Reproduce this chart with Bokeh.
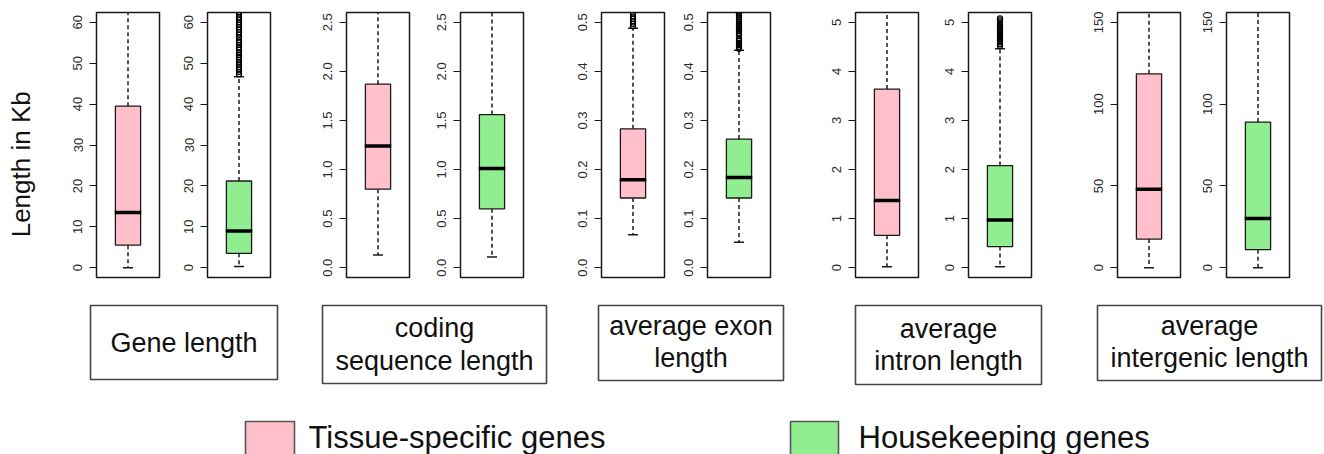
import math
from bokeh.plotting import figure
from bokeh.layouts import row, column
from bokeh.models import Range1d, FixedTicker, ColumnDataSource
from bokeh.embed import file_html
from bokeh.resources import INLINE
from bokeh.core.properties import value

# ---------------- data ----------------
measures = ["Gene length", "coding sequence length", "average exon length",
            "average intron length", "average intergenic length"]
label_lines = [["Gene length"], ["coding", "sequence length"], ["average exon", "length"],
               ["average", "intron length"], ["average", "intergenic length"]]
groups = ["Tissue-specific genes", "Housekeeping genes"]
y_label = "Length in Kb"

ylim_max = [60, 2.5, 0.5, 5, 150]
tick_values = [[0, 10, 20, 30, 40, 50, 60],
               [0.0, 0.5, 1.0, 1.5, 2.0, 2.5],
               [0.0, 0.1, 0.2, 0.3, 0.4, 0.5],
               [0, 1, 2, 3, 4, 5],
               [0, 50, 100, 150]]
tick_labels = [["0", "10", "20", "30", "40", "50", "60"],
               ["0.0", "0.5", "1.0", "1.5", "2.0", "2.5"],
               ["0.0", "0.1", "0.2", "0.3", "0.4", "0.5"],
               ["0", "1", "2", "3", "4", "5"],
               ["0", "50", "100", "150"]]

# Tissue-specific genes (pink)
ts_low = [0.0, 0.13, 0.067, 0.02, 0.0]
ts_q1 = [5.5, 0.80, 0.142, 0.66, 17.5]
ts_med = [13.5, 1.24, 0.179, 1.37, 48.0]
ts_q3 = [39.5, 1.87, 0.283, 3.64, 118.5]
ts_high = [90.0, 3.4, 0.488, 8.1, 270.0]
ts_out = [[], [], [0.492, 0.497, 0.502, 0.507, 0.512, 0.518], [], []]

# Housekeeping genes (green)
hk_low = [0.3, 0.11, 0.052, 0.02, 0.0]
hk_q1 = [3.5, 0.60, 0.142, 0.43, 11.0]
hk_med = [9.0, 1.01, 0.184, 0.97, 30.0]
hk_q3 = [21.2, 1.56, 0.262, 2.08, 89.0]
hk_high = [46.7, 3.0, 0.443, 4.46, 205.0]
hk_out = [[47.3, 47.9, 48.5, 49.0, 49.6, 50.3, 50.9, 51.4, 52.0, 52.7, 53.3, 53.8, 54.5,
           55.1, 55.6, 56.3, 57.0, 57.6, 58.2, 58.8, 59.4, 60.0, 60.6, 61.2, 61.9, 62.5],
          [],
          [0.446, 0.450, 0.454, 0.458, 0.462, 0.466, 0.474, 0.478, 0.482, 0.486, 0.490,
           0.494, 0.498, 0.502, 0.506, 0.510, 0.514, 0.518, 0.522],
          [4.52, 4.56, 4.60, 4.64, 4.68, 4.72, 4.76, 4.80, 4.84, 4.88, 4.92, 4.96,
           5.00, 5.04, 5.08],
          []]

colors = ["#FFC0CB", "#90EE90"]

# ---------------- layout constants (page pixels) ----------------
FONT = "Liberation Sans"
PAGE_W = 1324
PAGE_H = 454
ROW_H = 295
FRAME_W = 63
FRAME_H = 265
AX_W = 34
frame_left = [96, 207, 346, 460, 601, 707, 855, 968, 1117, 1226]
frame_top = [12, 13, 13, 13, 15, 15, 15, 17, 17, 17]
BOX_HALF = 0.2
CAP_HALF = 0.08


def make_panel(i, g):
    k = i * 2 + g
    ymax = ylim_max[i]
    pad = 0.04 * ymax
    left = frame_left[k] - AX_W
    nxt = frame_left[k + 1] - AX_W if k + 1 < len(frame_left) else PAGE_W
    width = nxt - left
    mt = frame_top[k] - 5
    mb = ROW_H - frame_top[k] - FRAME_H
    p = figure(width=width, height=ROW_H, title=None,
               x_range=Range1d(0.5, 1.5), y_range=Range1d(-pad, ymax + pad),
               x_axis_location=None, y_axis_location="left",
               toolbar_location=None, output_backend="svg",
               min_border_left=AX_W, min_border_right=width - AX_W - FRAME_W,
               min_border_top=mt, min_border_bottom=mb)
    p.grid.visible = False
    p.outline_line_color = "#1a1a1a"
    p.outline_line_width = 1.5
    ax = p.yaxis[0]
    ax.ticker = FixedTicker(ticks=tick_values[i])
    ax.major_label_overrides = {t: s for t, s in zip(tick_values[i], tick_labels[i])}
    ax.minor_tick_line_color = None
    ax.axis_line_color = None
    ax.major_tick_in = 0
    ax.major_tick_out = 7
    ax.major_tick_line_color = "#1a1a1a"
    ax.major_tick_line_width = 1.2
    ax.major_label_orientation = "vertical"
    ax.major_label_standoff = 7
    ax.major_label_text_font = FONT
    ax.major_label_text_font_size = "13px"
    ax.major_label_text_color = "#2a2a2a"

    if g == 0:
        lo, q1, md, q3, hi, out = ts_low[i], ts_q1[i], ts_med[i], ts_q3[i], ts_high[i], ts_out[i]
    else:
        lo, q1, md, q3, hi, out = hk_low[i], hk_q1[i], hk_med[i], hk_q3[i], hk_high[i], hk_out[i]

    # whiskers
    p.segment(x0=[1, 1], x1=[1, 1], y0=[q3, q1], y1=[hi, lo],
              line_color="#1a1a1a", line_width=1.5, line_dash="4 3")
    # caps
    p.segment(x0=[1 - CAP_HALF] * 2, x1=[1 + CAP_HALF] * 2, y0=[hi, lo], y1=[hi, lo],
              line_color="#1a1a1a", line_width=1.5)
    # box
    p.vbar(x=[1], width=2 * BOX_HALF, bottom=[q1], top=[q3],
           fill_color=colors[g], line_color="#1a1a1a", line_width=1.3)
    # median
    p.segment(x0=[1 - BOX_HALF - 0.01], x1=[1 + BOX_HALF + 0.01], y0=[md], y1=[md],
              line_color="black", line_width=3.5)
    # outliers
    if out:
        src = ColumnDataSource(dict(x=[1] * len(out), y=out))
        p.scatter(x="x", y="y", source=src, marker="circle", size=5,
                  fill_color=None, line_color="black", line_width=1.3)
    return p


panels = [make_panel(i, g) for i in range(len(measures)) for g in range(2)]

# left y-label figure
lw = frame_left[0] - AX_W
left_fig = figure(width=lw, height=ROW_H, title=None, x_range=Range1d(0, lw),
                  y_range=Range1d(ROW_H, 0),
                  x_axis_location=None, y_axis_location=None,
                  toolbar_location=None, output_backend="svg",
                  min_border=0)
left_fig.grid.visible = False
left_fig.outline_line_color = None
left_fig.text(x=[20], y=[169], text=[y_label], angle=math.pi / 2,
              text_align="center", text_baseline="middle",
              text_font=value(FONT), text_font_size="26px", text_color="#111111")

# bottom figure: measure label boxes and legend
BOT_H = PAGE_H - ROW_H
bot = figure(width=PAGE_W, height=BOT_H, title=None, x_range=Range1d(0, PAGE_W),
             y_range=Range1d(PAGE_H, ROW_H),
             x_axis_location=None, y_axis_location=None,
             toolbar_location=None, output_backend="svg", min_border=0)
bot.grid.visible = False
bot.outline_line_color = None

box_left = [90, 322, 598, 855, 1097]
box_right = [277, 546, 783, 1041, 1321]
box_top = [305, 305, 305, 305, 305]
box_bottom = [379, 383, 380, 384, 380]
line_baselines = [[342], [327, 360], [325, 357], [328, 360], [325, 357]]

bot.quad(left=box_left, right=box_right, top=box_top, bottom=box_bottom,
         fill_color="white", line_color="#444444", line_width=1.6)
tx, ty, tt = [], [], []
for i, lines in enumerate(label_lines):
    cx = (box_left[i] + box_right[i]) / 2
    for s, b in zip(lines, line_baselines[i]):
        tx.append(cx)
        ty.append(b)
        tt.append(s)
bot.text(x=tx, y=ty, text=tt, text_align="center", text_baseline="alphabetic",
         text_font=value(FONT), text_font_size="27px", text_color="#111111")

# legend
leg_sq_left = [245, 790]
leg_sq_right = [294, 838]
leg_text_x = [308, 858]
bot.quad(left=leg_sq_left, right=leg_sq_right, top=[421, 421], bottom=[470, 470],
         fill_color=colors, line_color="#555555", line_width=1.6)
bot.text(x=leg_text_x, y=[437, 437], text=groups, text_align="left",
         text_baseline="alphabetic", text_font=value(FONT), text_font_size="31px",
         text_color="#111111")

layout = column(row(left_fig, *panels, spacing=0), bot, spacing=0)
open("out.html", "w").write(file_html(layout, INLINE))
